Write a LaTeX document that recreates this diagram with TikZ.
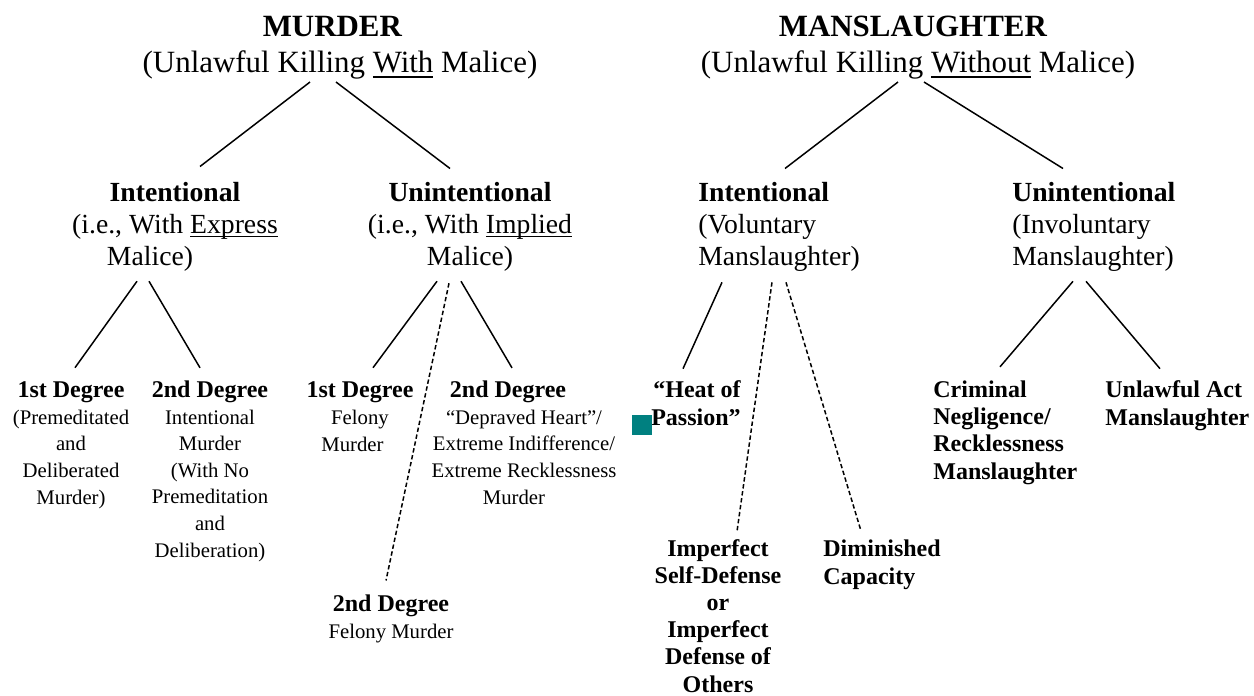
\documentclass[tikz,border=0pt]{standalone}
\usepackage{fontspec}
\setmainfont{Liberation Serif}
\definecolor{sqteal}{RGB}{0,128,128}
\newcommand{\grade}[1]{{\bfseries\fontsize{13.66}{15.1}\selectfont #1}}
\newcommand{\undl}[1]{\leavevmode\setbox0\hbox{#1}\rlap{\vrule height -0.1em depth 0.15em width \wd0}\box0\relax}

\begin{document}
\begin{tikzpicture}[x=0.02cm,y=-0.02cm,every node/.style={inner sep=0pt},crime/.style={font=\fontsize{17.6}{21}\selectfont,align=center,anchor=base},kind/.style={font=\fontsize{15.75}{18.2}\selectfont},formbox/.style={font=\fontsize{11.8}{15.1}\selectfont,align=center,anchor=base},act/.style={font=\bfseries\fontsize{13.66}{15.4}\selectfont},branch/.style={draw=black,line width=0.85pt},weak/.style={branch,dash pattern=on 2.5pt off 1.5pt}]
\useasboundingbox (0,0) rectangle (1254,696);
\node[crime] (mur) at (340,73) {\textbf{MURDER}\hspace*{0.3cm}\\(Unlawful Killing \undl{With} Malice)};
\node[crime] (man) at (918,73) {\textbf{MANSLAUGHTER}\hspace*{0.2cm}\\(Unlawful Killing \undl{Without} Malice)};
\node[kind,align=center,anchor=base] (mint) at (175,265) {\textbf{Intentional}\\(i.e., With \undl{Express}\\Malice)\hspace*{1cm}};
\node[kind,align=center,anchor=base] (muni) at (470,265) {\textbf{Unintentional}\\(i.e., With \undl{Implied}\\Malice)};
\node[kind,align=left,anchor=base west] (mvol) at (698,265) {\textbf{Intentional}\\(Voluntary\\Manslaughter)};
\node[kind,align=left,anchor=base west] (minv) at (1012,265) {\textbf{Unintentional}\\(Involuntary\\Manslaughter)};
\node[formbox] (m1) at (71,504) {\grade{1st Degree}\\(Premeditated\\and\\Deliberated\\Murder)};
\node[formbox] (m2) at (210,557) {\grade{2nd Degree}\\Intentional\\Murder\\(With No\\Premeditation\\and\\Deliberation)};
\node[formbox] (mu1) at (360,451) {\grade{1st Degree}\\Felony\hspace*{0.3cm}\\Murder\hspace*{0.3cm}};
\node[formbox] (mu2) at (524,504) {\grade{2nd Degree}\hspace*{0.64cm}\\``Depraved Heart''/\hspace*{0.9cm}\\Extreme Indifference/\\Extreme Recklessness\\Murder\hspace*{0.4cm}};
\node[formbox] (mu3) at (391,638) {\grade{2nd Degree}\\Felony Murder};
\node[act,align=right,anchor=base east] (heat) at (741,425) {``Heat of\\Passion''};
\node[act,align=center,anchor=base] (imp) at (718,692) {Imperfect\\Self-Defense\\or\\Imperfect\\Defense of\\Others};
\node[act,align=left,anchor=base west] (dim) at (823,584) {Diminished\\Capacity};
\node[act,align=left,anchor=base west] (crim) at (933,479) {Criminal\\Negligence/\\Recklessness\\Manslaughter};
\node[act,align=left,anchor=base west] (unl) at (1105,425) {Unlawful Act\\Manslaughter};
\fill[sqteal] (632,415) rectangle (652,435);
\draw[branch] ([shift={(-30,2)}]mur.south) -- ([shift={(25,-15)}]mint.north);
\draw[branch] ([shift={(-4,2)}]mur.south) -- ([shift={(-20,-13)}]muni.north);
\draw[branch] ([shift={(-20,2)}]man.south) -- ([shift={(87,-13)}]mvol.north west);
\draw[branch] ([shift={(6,2)}]man.south) -- ([shift={(51,-13)}]minv.north west);
\draw[branch] ([shift={(-38,10)}]mint.south) -- ([shift={(4,-14)}]m1.north);
\draw[branch] ([shift={(-26,10)}]mint.south) -- ([shift={(-10,-13)}]m2.north);
\draw[branch] ([shift={(-33,10)}]muni.south) -- ([shift={(13,-14)}]mu1.north);
\draw[weak] ([shift={(-21,12)}]muni.south) -- ([shift={(-5,-14)}]mu3.north);
\draw[branch] ([shift={(-9,10)}]muni.south) -- ([shift={(-12,-13)}]mu2.north);
\draw[branch] ([shift={(24,11)}]mvol.south west) -- ([shift={(-58,-12)}]heat.north east);
\draw[weak] ([shift={(74,11)}]mvol.south west) -- ([shift={(19,-8)}]imp.north);
\draw[weak] ([shift={(88,11)}]mvol.south west) -- ([shift={(38,-9)}]dim.north west);
\draw[branch] ([shift={(61,10)}]minv.south west) -- ([shift={(67,-14)}]crim.north west);
\draw[branch] ([shift={(74,10)}]minv.south west) -- ([shift={(55,-12)}]unl.north west);
\end{tikzpicture}
\end{document}
